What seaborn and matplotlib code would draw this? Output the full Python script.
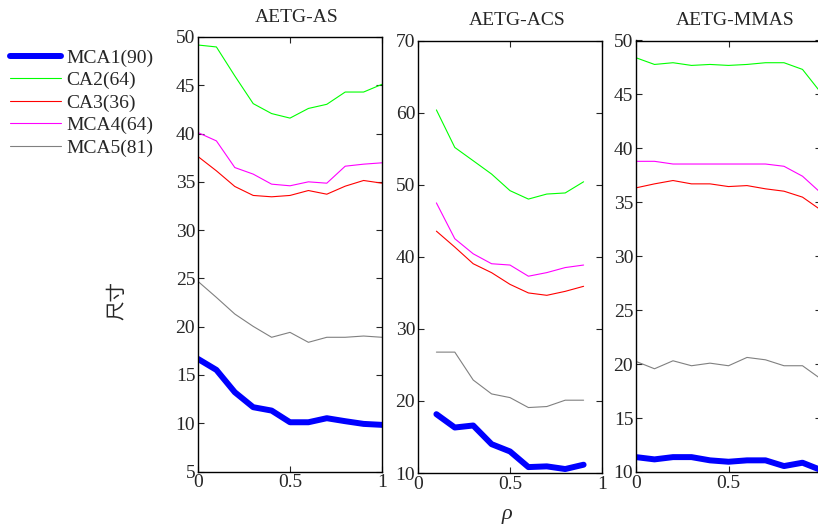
import matplotlib
matplotlib.use("Agg")
import matplotlib.pyplot as plt
import seaborn as sns
import pandas as pd

# ---- data ----
series = ["MCA1(90)", "CA2(64)", "CA3(36)", "MCA4(64)", "MCA5(81)"]
colors = ["#0000ff", "#00ff00", "#ff0000", "#ff00ff", "#808080"]
widths = [4.3, 0.8, 0.8, 0.8, 0.8]

panel_titles = ["AETG-AS", "AETG-ACS", "AETG-MMAS"]

rho_as = [0.0, 0.1, 0.2, 0.3, 0.4, 0.5, 0.6, 0.7, 0.8, 0.9, 1.0]
as_mca1 = [16.66, 15.52, 13.21, 11.66, 11.31, 10.10, 10.10, 10.52, 10.21, 9.93, 9.83]
as_ca2 = [49.17, 48.97, 45.97, 43.10, 42.07, 41.60, 42.60, 43.03, 44.30, 44.30, 45.10]
as_ca3 = [37.62, 36.14, 34.52, 33.59, 33.45, 33.59, 34.10, 33.72, 34.55, 35.14, 34.86]
as_mca4 = [40.10, 39.24, 36.48, 35.80, 34.76, 34.59, 35.00, 34.86, 36.62, 36.83, 36.97]
as_mca5 = [24.69, 23.03, 21.31, 20.03, 18.90, 19.41, 18.38, 18.90, 18.90, 19.03, 18.90]

rho_acs = [0.1, 0.2, 0.3, 0.4, 0.5, 0.6, 0.7, 0.8, 0.9]
acs_mca1 = [18.16, 16.31, 16.59, 14.00, 12.99, 10.82, 10.92, 10.55, 11.15]
acs_ca2 = [60.37, 55.16, 53.32, 51.47, 49.17, 48.00, 48.70, 48.85, 50.40]
acs_ca3 = [43.55, 41.34, 39.03, 37.79, 36.17, 34.98, 34.65, 35.20, 35.90]
acs_mca4 = [47.47, 42.50, 40.41, 39.03, 38.85, 37.30, 37.80, 38.50, 38.85]
acs_mca5 = [26.77, 26.77, 22.90, 20.97, 20.46, 19.08, 19.22, 20.10, 20.10]

rho_mmas = [0.0, 0.1, 0.2, 0.3, 0.4, 0.5, 0.6, 0.7, 0.8, 0.9, 1.0]
mmas_mca1 = [11.38, 11.17, 11.38, 11.38, 11.08, 10.95, 11.08, 11.08, 10.55, 10.86, 10.18]
mmas_ca2 = [48.40, 47.78, 47.94, 47.69, 47.78, 47.69, 47.78, 47.94, 47.94, 47.32, 45.15]
mmas_ca3 = [36.34, 36.71, 37.02, 36.71, 36.71, 36.46, 36.55, 36.25, 36.03, 35.48, 34.28]
mmas_mca4 = [38.80, 38.80, 38.55, 38.55, 38.55, 38.55, 38.55, 38.55, 38.34, 37.42, 35.86]
mmas_mca5 = [20.25, 19.57, 20.31, 19.85, 20.09, 19.85, 20.62, 20.40, 19.85, 19.85, 18.62]

y_ticks = [list(range(5, 51, 5)), list(range(10, 71, 10)), list(range(10, 51, 5))]
x_ticks = [0, 0.5, 1]
x_ticklabels = [["0", "0.5", "1"], ["0", "0.5", "1"], ["0", "0.5", ""]]

# ---- style ----
sns.set_style("ticks")
plt.rcParams["font.family"] = ["Liberation Serif", "Noto Sans CJK SC"]

fig = plt.figure(figsize=(8.18, 5.24), dpi=100)
W, H = 818.0, 524.0
boxes = [(198, 382, 37, 471.5), (418, 602, 40.5, 473), (636, 821, 40.5, 472)]

panels = [
    (rho_as, [as_mca1, as_ca2, as_ca3, as_mca4, as_mca5]),
    (rho_acs, [acs_mca1, acs_ca2, acs_ca3, acs_mca4, acs_mca5]),
    (rho_mmas, [mmas_mca1, mmas_ca2, mmas_ca3, mmas_mca4, mmas_mca5]),
]

palette = dict(zip(series, colors))
sizes = dict(zip(series, widths))

axes = []
for i, ((l, r, t, b), (xs, ys_list)) in enumerate(zip(boxes, panels)):
    ax = fig.add_axes([l / W, 1 - b / H, (r - l) / W, (b - t) / H])
    rows = []
    for name, ys in zip(series, ys_list):
        for x, y in zip(xs, ys):
            rows.append({"rho": x, "size": y, "series": name})
    df = pd.DataFrame(rows)
    sns.lineplot(data=df, x="rho", y="size", hue="series", size="series",
                 hue_order=series, size_order=series,
                 palette=palette, sizes=sizes, ax=ax, legend=(i == 0),
                 estimator=None, sort=False)
    yt = y_ticks[i]
    ax.set_ylim(yt[0], yt[-1])
    ax.set_yticks(yt)
    ax.set_xlim(0, 1)
    ax.set_xticks(x_ticks)
    ax.set_xticklabels(x_ticklabels[i])
    ax.set_xlabel("")
    ax.set_ylabel("")
    ttl = ax.set_title(panel_titles[i], fontsize=14, pad=11)
    ttl.set_x(0.5 + 7.0 / (r - l))
    ax.tick_params(direction="in", top=True, right=True, length=4, width=0.8,
                   labelsize=14, pad=2)
    for sp in ax.spines.values():
        sp.set_visible(True)
        sp.set_linewidth(1.0)
        sp.set_color("black")
    axes.append(ax)

handles, labels = axes[0].get_legend_handles_labels()
axes[0].get_legend().remove()
fig.legend(handles, labels, loc="upper left",
           bbox_to_anchor=(10 / W, 1 - 49 / H), frameon=False,
           fontsize=14, handlelength=2.6, handletextpad=0.3,
           labelspacing=0.25, borderpad=0, borderaxespad=0)

fig.text(117 / W, 1 - 300 / H, "尺寸", rotation=90, ha="center", va="center",
         fontsize=14, family=["Noto Sans CJK SC"])
fig.text(507 / W, 1 - 514 / H, "ρ", ha="center", va="center",
         fontsize=16, fontstyle="italic")

fig.savefig("out.png", dpi=100)
